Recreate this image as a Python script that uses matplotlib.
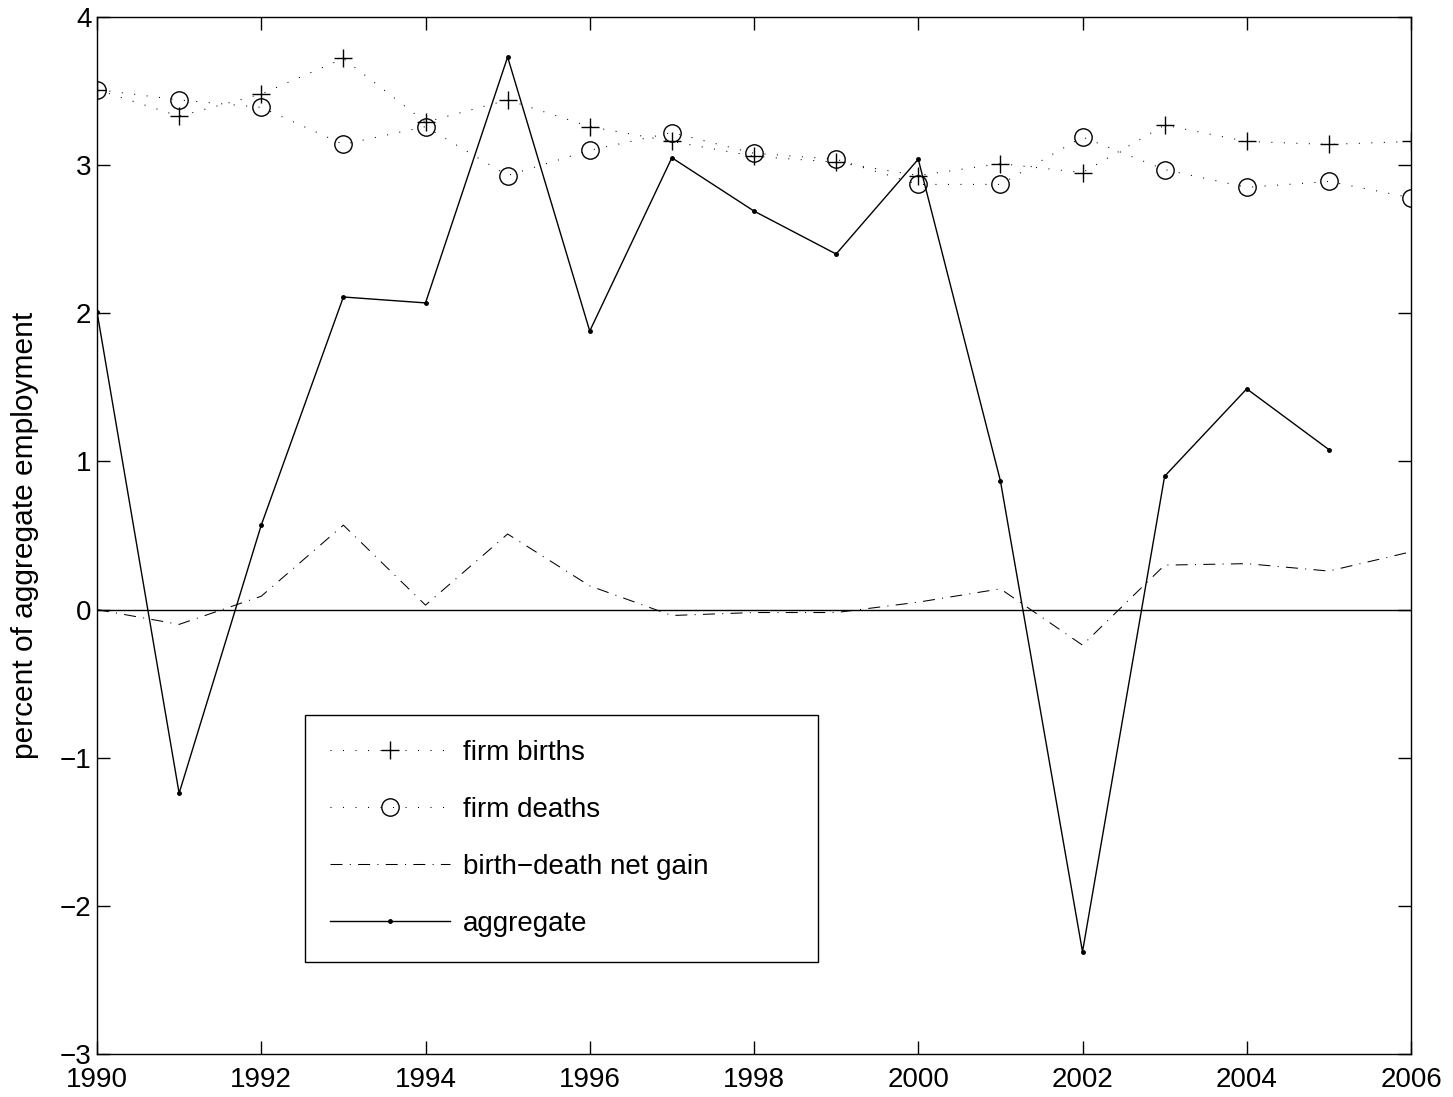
import matplotlib.pyplot as plt
import numpy as np

plt.rcParams['font.family'] = ['Liberation Sans', 'DejaVu Sans']

# data
years = list(range(1990, 2007))
births = [3.51, 3.33, 3.48, 3.72, 3.29, 3.44, 3.26, 3.16, 3.06, 3.02,
          2.93, 3.01, 2.95, 3.27, 3.16, 3.14, 3.16]
deaths = [3.51, 3.44, 3.39, 3.14, 3.26, 2.93, 3.10, 3.22, 3.08, 3.04,
          2.87, 2.87, 3.19, 2.97, 2.85, 2.89, 2.78]
net_gain = [0.00, -0.10, 0.09, 0.57, 0.03, 0.51, 0.16, -0.04, -0.02, -0.02,
            0.05, 0.14, -0.24, 0.30, 0.31, 0.26, 0.39]
agg_years = list(range(1990, 2006))
aggregate = [2.01, -1.24, 0.57, 2.11, 2.07, 3.73, 1.88, 3.05, 2.69, 2.40,
             3.04, 0.87, -2.31, 0.90, 1.49, 1.08]

fig = plt.figure(figsize=(14.53, 10.97), dpi=100)
ax = fig.add_axes([97 / 1453, 1 - 1054 / 1097, 1314 / 1453, 1037 / 1097])

dot = (0, (1, 11))
ax.plot(years, births, color='black', lw=0.75, linestyle=dot,
        marker='+', markersize=13, markeredgewidth=1.0, label='firm births')
ax.plot(years, deaths, color='black', lw=0.75, linestyle=dot,
        marker='o', markersize=12.5, markerfacecolor='none',
        markeredgewidth=1.0, label='firm deaths')
ax.plot(years, net_gain, color='black', lw=0.75,
        linestyle=(0, (11.5, 7, 1, 7)), label='birth\u2212death net gain')
ax.plot(agg_years, aggregate, color='black', lw=1.0, marker='.',
        markersize=5, label='aggregate')
ax.axhline(0, color='black', lw=1.0)

ax.set_xlim(1990, 2006)
ax.set_ylim(-3, 4)
ax.set_xticks(range(1990, 2007, 2))
ax.set_yticks(range(-3, 5))
ax.set_yticklabels([str(v).replace('-', '\u2212') for v in range(-3, 5)])
ax.tick_params(direction='in', length=9.5, width=1, labelsize=20,
               top=True, right=True)
ax.tick_params(axis='x', pad=9.5)
ax.tick_params(axis='y', pad=4)
for s in ax.spines.values():
    s.set_linewidth(1.0)
ax.set_ylabel('percent of aggregate employment', fontsize=21.5, labelpad=15)

leg = ax.legend(loc='lower left',
                bbox_to_anchor=(0.158, 0.0887, 0.3904, 0.2353),
                mode='expand', borderaxespad=0,
                numpoints=1, fontsize=20, handlelength=4.35,
                labelspacing=1.12, borderpad=0.9, handletextpad=0.45,
                fancybox=False, edgecolor='black', framealpha=1)
leg.get_frame().set_linewidth(1.0)

fig.savefig('out.png', dpi=100)
